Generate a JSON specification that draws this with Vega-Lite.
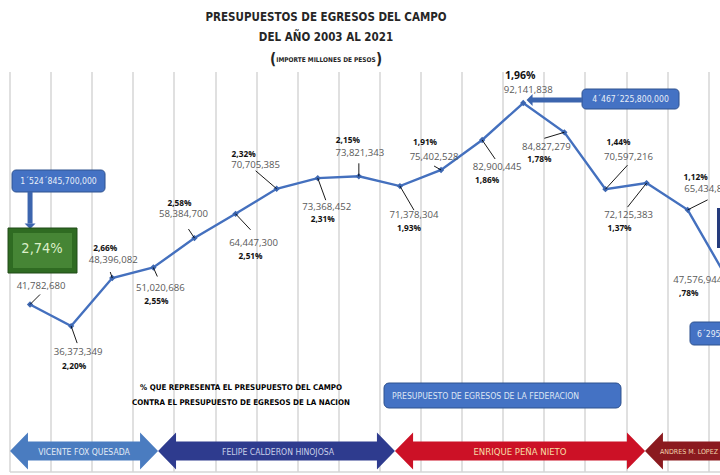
{
  "$schema": "https://vega.github.io/schema/vega-lite/v6.json",
  "width": 710.5,
  "height": 400,
  "autosize": {"type": "none"},
  "padding": {"left": 9.5, "top": 71.6, "right": 0, "bottom": 3.4},
  "background": "white",
  "datasets": {
    "presupuesto": [
      {"year": 2003, "value": 41782680, "pct": "2,74%"},
      {"year": 2004, "value": 36373349, "pct": "2,20%"},
      {"year": 2005, "value": 48396082, "pct": "2,66%"},
      {"year": 2006, "value": 51020686, "pct": "2,55%"},
      {"year": 2007, "value": 58384700, "pct": "2,58%"},
      {"year": 2008, "value": 64447300, "pct": "2,51%"},
      {"year": 2009, "value": 70705385, "pct": "2,32%"},
      {"year": 2010, "value": 73368452, "pct": "2,31%"},
      {"year": 2011, "value": 73821343, "pct": "2,15%"},
      {"year": 2012, "value": 71378304, "pct": "1,93%"},
      {"year": 2013, "value": 75402528, "pct": "1,91%"},
      {"year": 2014, "value": 82900445, "pct": "1,86%"},
      {"year": 2015, "value": 92141838, "pct": "1,96%"},
      {"year": 2016, "value": 84827279, "pct": "1,78%"},
      {"year": 2017, "value": 70597216, "pct": "1,44%"},
      {"year": 2018, "value": 72125383, "pct": "1,37%"},
      {"year": 2019, "value": 65434800, "pct": "1,12%"},
      {"year": 2020, "value": 47576944, "pct": ",78%"}
    ],
    "uno": [{"k": 1}]
  },
  "layer": [
    {
      "data": {"name": "uno"},
      "layer": [
        {"mark": {"type": "text", "style": "ttl", "color": "#262626"},
         "encoding": {"x": {"datum": 2010.201, "type": "quantitative"}, "y": {"datum": 113400000, "type": "quantitative"}, "text": {"value": "PRESUPUESTOS DE EGRESOS DEL CAMPO"}}},
        {"mark": {"type": "text", "style": "ttl", "color": "#262626"},
         "encoding": {"x": {"datum": 2010.201, "type": "quantitative"}, "y": {"datum": 108400000, "type": "quantitative"}, "text": {"value": "DEL AÑO 2003 AL 2021"}}},
        {"mark": {"type": "text", "style": "ttl", "color": "#262626", "fontSize": 6.5},
         "encoding": {"x": {"datum": 2010.201, "type": "quantitative"}, "y": {"datum": 103025000, "type": "quantitative"}, "text": {"value": "IMPORTE MILLONES DE PESOS"}}},
        {"mark": {"type": "text", "style": "paren", "color": "#262626"},
         "encoding": {"x": {"datum": 2008.911, "type": "quantitative"}, "y": {"datum": 103150000, "type": "quantitative"}, "text": {"value": "("}}},
        {"mark": {"type": "text", "style": "paren", "color": "#262626"},
         "encoding": {"x": {"datum": 2011.49, "type": "quantitative"}, "y": {"datum": 103150000, "type": "quantitative"}, "text": {"value": ")"}}},
        {"mark": {"type": "rect", "fill": "#4472c4", "stroke": "#2f528f", "strokeWidth": 1, "cornerRadius": 4},
         "encoding": {"x": {"datum": 2002.561, "type": "quantitative"}, "x2": {"datum": 2004.824}, "y": {"datum": 75400000, "type": "quantitative"}, "y2": {"datum": 69900000}}},
        {"mark": {"type": "text", "style": "box", "align": "center", "color": "#e8eef8"},
         "encoding": {"x": {"datum": 2003.692, "type": "quantitative"}, "y": {"datum": 72650000, "type": "quantitative"}, "text": {"value": "1´524´845,700,000"}}},
        {"mark": {"type": "rule", "color": "#3c65ae", "strokeWidth": 5},
         "encoding": {"x": {"datum": 2003.0, "type": "quantitative"}, "y": {"datum": 69900000, "type": "quantitative"}, "y2": {"datum": 62000000}}},
        {"mark": {"type": "point", "shape": "M 0 0 L -1 -1 L 1 -1 Z", "size": 121, "filled": true, "color": "#3c65ae", "opacity": 1},
         "encoding": {"x": {"datum": 2003.0, "type": "quantitative"}, "y": {"datum": 60650000, "type": "quantitative"}}},
        {"mark": {"type": "rect", "fill": "#2f6b22", "stroke": "#1f4a16", "strokeWidth": 1},
         "encoding": {"x": {"datum": 2002.464, "type": "quantitative"}, "x2": {"datum": 2004.142}, "y": {"datum": 60900000, "type": "quantitative"}, "y2": {"datum": 49650000}}},
        {"mark": {"type": "rect", "fill": "#468535"},
         "encoding": {"x": {"datum": 2002.585, "type": "quantitative"}, "x2": {"datum": 2004.021}, "y": {"datum": 59650000, "type": "quantitative"}, "y2": {"datum": 50900000}}},
        {"mark": {"type": "rect", "fill": "#4472c4", "stroke": "#2f528f", "strokeWidth": 1, "cornerRadius": 4},
         "encoding": {"x": {"datum": 2016.43, "type": "quantitative"}, "x2": {"datum": 2018.79}, "y": {"datum": 95650000, "type": "quantitative"}, "y2": {"datum": 90650000}}},
        {"mark": {"type": "text", "style": "box", "align": "center", "color": "#e8eef8"},
         "encoding": {"x": {"datum": 2017.61, "type": "quantitative"}, "y": {"datum": 93150000, "type": "quantitative"}, "text": {"value": "4´467´225,800,000"}}},
        {"mark": {"type": "rule", "color": "#3c65ae", "strokeWidth": 5},
         "encoding": {"x": {"datum": 2015.213, "type": "quantitative"}, "x2": {"datum": 2016.43}, "y": {"datum": 92900000, "type": "quantitative"}}},
        {"mark": {"type": "point", "shape": "M 0 0 L 1 -1 L 1 1 Z", "size": 144, "filled": true, "color": "#3c65ae", "opacity": 1},
         "encoding": {"x": {"datum": 2015.08, "type": "quantitative"}, "y": {"datum": 92900000, "type": "quantitative"}}},
        {"mark": {"type": "rect", "fill": "#4472c4", "stroke": "#2f528f", "strokeWidth": 1, "cornerRadius": 4},
         "encoding": {"x": {"datum": 2019.057, "type": "quantitative"}, "x2": {"datum": 2021.7}, "y": {"datum": 37400000, "type": "quantitative"}, "y2": {"datum": 31650000}}},
        {"mark": {"type": "text", "style": "box", "align": "left", "color": "#e8eef8"},
         "encoding": {"x": {"datum": 2019.227, "type": "quantitative"}, "y": {"datum": 34400000, "type": "quantitative"}, "text": {"value": "6´295´736,200,000"}}},
        {"mark": {"type": "rect", "fill": "#253b7c"},
         "encoding": {"x": {"datum": 2019.714, "type": "quantitative"}, "x2": {"datum": 2021.0}, "y": {"datum": 65900000, "type": "quantitative"}, "y2": {"datum": 55900000}}},
        {"mark": {"type": "rect", "fill": "#4472c4", "stroke": "#2f528f", "strokeWidth": 1, "cornerRadius": 5},
         "encoding": {"x": {"datum": 2011.612, "type": "quantitative"}, "x2": {"datum": 2017.378}, "y": {"datum": 22150000, "type": "quantitative"}, "y2": {"datum": 15900000}}},
        {"mark": {"type": "text", "style": "box", "align": "left", "color": "#dde6f4"},
         "encoding": {"x": {"datum": 2011.807, "type": "quantitative"}, "y": {"datum": 18900000, "type": "quantitative"}, "text": {"value": "PRESUPUESTO DE EGRESOS DE LA FEDERACION"}}},
        {"mark": {"type": "text", "style": "note", "color": "#000000"},
         "encoding": {"x": {"datum": 2008.133, "type": "quantitative"}, "y": {"datum": 20900000, "type": "quantitative"}, "text": {"value": "% QUE REPRESENTA EL PRESUPUESTO DEL CAMPO"}}},
        {"mark": {"type": "text", "style": "note", "color": "#000000"},
         "encoding": {"x": {"datum": 2008.133, "type": "quantitative"}, "y": {"datum": 17150000, "type": "quantitative"}, "text": {"value": "CONTRA EL PRESUPUESTO DE EGRESOS DE LA NACION"}}},
        {"mark": {"type": "point", "shape": "M -4 0 L -3.03 -1 L -3.03 -0.51 L 3.03 -0.51 L 3.03 -1 L 4 0 L 3.03 1 L 3.03 0.51 L -3.03 0.51 L -3.03 1 Z", "size": 1369, "filled": true, "color": "#4a7cc0", "opacity": 1, "strokeWidth": 0},
         "encoding": {"x": {"datum": 2004.313, "type": "quantitative"}, "y": {"datum": 5150000, "type": "quantitative"}}},
        {"mark": {"type": "point", "shape": "M -6.4 0 L -5.43 -1 L -5.43 -0.51 L 5.43 -0.51 L 5.43 -1 L 6.4 0 L 5.43 1 L 5.43 0.51 L -5.43 0.51 L -5.43 1 Z", "size": 1369, "filled": true, "color": "#2e3b8e", "opacity": 1, "strokeWidth": 0},
         "encoding": {"x": {"datum": 2008.996, "type": "quantitative"}, "y": {"datum": 5150000, "type": "quantitative"}}},
        {"mark": {"type": "point", "shape": "M -6.76 0 L -5.78 -1 L -5.78 -0.51 L 5.78 -0.51 L 5.78 -1 L 6.76 0 L 5.78 1 L 5.78 0.51 L -5.78 0.51 L -5.78 1 Z", "size": 1369, "filled": true, "color": "#cc1126", "opacity": 1, "strokeWidth": 0},
         "encoding": {"x": {"datum": 2014.921, "type": "quantitative"}, "y": {"datum": 5150000, "type": "quantitative"}}},
        {"mark": {"type": "point", "shape": "M 0 0 L 0.97 -1 L 0.97 -0.51 L 8 -0.51 L 8 0.51 L 0.97 0.51 L 0.97 1 Z", "size": 1369, "filled": true, "color": "#8b1a1f", "opacity": 1, "strokeWidth": 0},
         "encoding": {"x": {"datum": 2017.962, "type": "quantitative"}, "y": {"datum": 5150000, "type": "quantitative"}}},
        {"mark": {"type": "text", "style": "arrowtxt", "color": "#e3ebf6"},
         "encoding": {"x": {"datum": 2004.313, "type": "quantitative"}, "y": {"datum": 4900000, "type": "quantitative"}, "text": {"value": "VICENTE FOX QUESADA"}}},
        {"mark": {"type": "text", "style": "arrowtxt", "color": "#c9cfea"},
         "encoding": {"x": {"datum": 2009.033, "type": "quantitative"}, "y": {"datum": 4900000, "type": "quantitative"}, "text": {"value": "FELIPE CALDERON HINOJOSA"}}},
        {"mark": {"type": "text", "style": "arrowtxt", "color": "#f7dfa8", "fontSize": 9.5},
         "encoding": {"x": {"datum": 2014.921, "type": "quantitative"}, "y": {"datum": 4900000, "type": "quantitative"}, "text": {"value": "ENRIQUE PEÑA NIETO"}}},
        {"mark": {"type": "text", "style": "arrowtxt", "color": "#f3d3ad", "fontSize": 7, "align": "left"},
         "encoding": {"x": {"datum": 2018.327, "type": "quantitative"}, "y": {"datum": 4900000, "type": "quantitative"}, "text": {"value": "ANDRES M. LOPEZ OBRADOR"}}}
      ]
    },
    {
      "data": {"name": "presupuesto"},
      "encoding": {
        "x": {
          "field": "year", "type": "quantitative",
          "scale": {"domain": [2002.5, 2019.787], "nice": false, "zero": false},
          "axis": {
            "values": [2002.5, 2003.5, 2004.5, 2005.5, 2006.5, 2007.5, 2008.5, 2009.5, 2010.5, 2011.5, 2012.5, 2013.5, 2014.5, 2015.5, 2016.5, 2017.5, 2018.5, 2019.5],
            "grid": true, "labels": false, "ticks": false, "title": null,
            "gridColor": "#d6d6d6", "gridWidth": 1.5, "domainColor": "#d6d6d6", "domainWidth": 1.5
          }
        },
        "y": {
          "field": "value", "type": "quantitative",
          "scale": {"domain": [0, 100000000], "nice": false},
          "axis": null
        }
      },
      "layer": [
        {"mark": {"type": "line", "color": "#4470be", "strokeWidth": 2.4}},
        {"mark": {"type": "point", "shape": "diamond", "filled": true, "size": 40, "color": "#3d67b1", "opacity": 1}},
        {"transform": [{"filter": "datum.year === 2003"}], "layer": [
          {"mark": {"type": "rule", "style": "lead", "x2Offset": 10, "y2Offset": -10}, "encoding": {"x2": {"field": "year"}, "y2": {"field": "value"}}},
          {"mark": {"type": "text", "style": "val", "color": "#595959", "dx": 11, "dy": -18}, "encoding": {"text": {"field": "value", "format": ","}}},
          {"mark": {"type": "text", "style": "big", "color": "#dcefc8", "dx": 12, "dy": -55}, "encoding": {"text": {"field": "pct"}}}
        ]},
        {"transform": [{"filter": "datum.year === 2004"}], "layer": [
          {"mark": {"type": "rule", "style": "lead", "x2Offset": 6, "y2Offset": 17}, "encoding": {"x2": {"field": "year"}, "y2": {"field": "value"}}},
          {"mark": {"type": "text", "style": "val", "color": "#595959", "dx": 7, "dy": 26}, "encoding": {"text": {"field": "value", "format": ","}}},
          {"mark": {"type": "text", "style": "pct", "color": "#111111", "dx": 3, "dy": 41}, "encoding": {"text": {"field": "pct"}}}
        ]},
        {"transform": [{"filter": "datum.year === 2005"}], "layer": [
          {"mark": {"type": "rule", "style": "lead", "x2Offset": -2, "y2Offset": -6}, "encoding": {"x2": {"field": "year"}, "y2": {"field": "value"}}},
          {"mark": {"type": "text", "style": "val", "color": "#595959", "dx": 1, "dy": -18}, "encoding": {"text": {"field": "value", "format": ","}}},
          {"mark": {"type": "text", "style": "pct", "color": "#111111", "dx": -7, "dy": -29}, "encoding": {"text": {"field": "pct"}}}
        ]},
        {"transform": [{"filter": "datum.year === 2006"}], "layer": [
          {"mark": {"type": "rule", "style": "lead", "x2Offset": 4, "y2Offset": 9}, "encoding": {"x2": {"field": "year"}, "y2": {"field": "value"}}},
          {"mark": {"type": "text", "style": "val", "color": "#595959", "dx": 7, "dy": 20}, "encoding": {"text": {"field": "value", "format": ","}}},
          {"mark": {"type": "text", "style": "pct", "color": "#111111", "dx": 3, "dy": 34}, "encoding": {"text": {"field": "pct"}}}
        ]},
        {"transform": [{"filter": "datum.year === 2007"}], "layer": [
          {"mark": {"type": "rule", "style": "lead", "x2Offset": -6, "y2Offset": -9}, "encoding": {"x2": {"field": "year"}, "y2": {"field": "value"}}},
          {"mark": {"type": "text", "style": "val", "color": "#595959", "dx": -11, "dy": -24}, "encoding": {"text": {"field": "value", "format": ","}}},
          {"mark": {"type": "text", "style": "pct", "color": "#111111", "dx": -15, "dy": -34}, "encoding": {"text": {"field": "pct"}}}
        ]},
        {"transform": [{"filter": "datum.year === 2008"}], "layer": [
          {"mark": {"type": "rule", "style": "lead", "x2Offset": 15, "y2Offset": 16}, "encoding": {"x2": {"field": "year"}, "y2": {"field": "value"}}},
          {"mark": {"type": "text", "style": "val", "color": "#595959", "dx": 18, "dy": 29}, "encoding": {"text": {"field": "value", "format": ","}}},
          {"mark": {"type": "text", "style": "pct", "color": "#111111", "dx": 15, "dy": 43}, "encoding": {"text": {"field": "pct"}}}
        ]},
        {"transform": [{"filter": "datum.year === 2009"}], "layer": [
          {"mark": {"type": "rule", "style": "lead", "x2Offset": -21, "y2Offset": -18}, "encoding": {"x2": {"field": "year"}, "y2": {"field": "value"}}},
          {"mark": {"type": "text", "style": "val", "color": "#595959", "dx": -21, "dy": -24}, "encoding": {"text": {"field": "value", "format": ","}}},
          {"mark": {"type": "text", "style": "pct", "color": "#111111", "dx": -33, "dy": -34}, "encoding": {"text": {"field": "pct"}}}
        ]},
        {"transform": [{"filter": "datum.year === 2010"}], "layer": [
          {"mark": {"type": "rule", "style": "lead", "x2Offset": 8, "y2Offset": 22}, "encoding": {"x2": {"field": "year"}, "y2": {"field": "value"}}},
          {"mark": {"type": "text", "style": "val", "color": "#595959", "dx": 9, "dy": 29}, "encoding": {"text": {"field": "value", "format": ","}}},
          {"mark": {"type": "text", "style": "pct", "color": "#111111", "dx": 5, "dy": 42}, "encoding": {"text": {"field": "pct"}}}
        ]},
        {"transform": [{"filter": "datum.year === 2011"}], "layer": [
          {"mark": {"type": "rule", "style": "lead", "x2Offset": 0, "y2Offset": -13}, "encoding": {"x2": {"field": "year"}, "y2": {"field": "value"}}},
          {"mark": {"type": "text", "style": "val", "color": "#595959", "dx": 1, "dy": -23}, "encoding": {"text": {"field": "value", "format": ","}}},
          {"mark": {"type": "text", "style": "pct", "color": "#111111", "dx": -11, "dy": -35}, "encoding": {"text": {"field": "pct"}}}
        ]},
        {"transform": [{"filter": "datum.year === 2012"}], "layer": [
          {"mark": {"type": "rule", "style": "lead", "x2Offset": 14, "y2Offset": 24}, "encoding": {"x2": {"field": "year"}, "y2": {"field": "value"}}},
          {"mark": {"type": "text", "style": "val", "color": "#595959", "dx": 14, "dy": 29}, "encoding": {"text": {"field": "value", "format": ","}}},
          {"mark": {"type": "text", "style": "pct", "color": "#111111", "dx": 9, "dy": 43}, "encoding": {"text": {"field": "pct"}}}
        ]},
        {"transform": [{"filter": "datum.year === 2013"}], "layer": [
          {"mark": {"type": "rule", "style": "lead", "x2Offset": -7, "y2Offset": -4}, "encoding": {"x2": {"field": "year"}, "y2": {"field": "value"}}},
          {"mark": {"type": "text", "style": "val", "color": "#595959", "dx": -7, "dy": -13}, "encoding": {"text": {"field": "value", "format": ","}}},
          {"mark": {"type": "text", "style": "pct", "color": "#111111", "dx": -16, "dy": -27}, "encoding": {"text": {"field": "pct"}}}
        ]},
        {"transform": [{"filter": "datum.year === 2014"}], "layer": [
          {"mark": {"type": "rule", "style": "lead", "x2Offset": 13, "y2Offset": 19}, "encoding": {"x2": {"field": "year"}, "y2": {"field": "value"}}},
          {"mark": {"type": "text", "style": "val", "color": "#595959", "dx": 15, "dy": 27}, "encoding": {"text": {"field": "value", "format": ","}}},
          {"mark": {"type": "text", "style": "pct", "color": "#111111", "dx": 5, "dy": 41}, "encoding": {"text": {"field": "pct"}}}
        ]},
        {"transform": [{"filter": "datum.year === 2015"}], "layer": [
          {"mark": {"type": "text", "style": "val", "color": "#595959", "dx": 5, "dy": -13}, "encoding": {"text": {"field": "value", "format": ","}}},
          {"mark": {"type": "text", "style": "pct", "color": "#111111", "dx": -3, "dy": -27, "fontSize": 10.5}, "encoding": {"text": {"field": "pct"}}}
        ]},
        {"transform": [{"filter": "datum.year === 2016"}], "layer": [
          {"mark": {"type": "rule", "style": "lead", "x2Offset": -20, "y2Offset": 6}, "encoding": {"x2": {"field": "year"}, "y2": {"field": "value"}}},
          {"mark": {"type": "text", "style": "val", "color": "#595959", "dx": -18, "dy": 15}, "encoding": {"text": {"field": "value", "format": ","}}},
          {"mark": {"type": "text", "style": "pct", "color": "#111111", "dx": -25, "dy": 28}, "encoding": {"text": {"field": "pct"}}}
        ]},
        {"transform": [{"filter": "datum.year === 2017"}], "layer": [
          {"mark": {"type": "rule", "style": "lead", "x2Offset": 22, "y2Offset": -24}, "encoding": {"x2": {"field": "year"}, "y2": {"field": "value"}}},
          {"mark": {"type": "text", "style": "val", "color": "#595959", "dx": 23, "dy": -32}, "encoding": {"text": {"field": "value", "format": ","}}},
          {"mark": {"type": "text", "style": "pct", "color": "#111111", "dx": 13, "dy": -46}, "encoding": {"text": {"field": "pct"}}}
        ]},
        {"transform": [{"filter": "datum.year === 2018"}], "layer": [
          {"mark": {"type": "rule", "style": "lead", "x2Offset": -19, "y2Offset": 24}, "encoding": {"x2": {"field": "year"}, "y2": {"field": "value"}}},
          {"mark": {"type": "text", "style": "val", "color": "#595959", "dx": -18, "dy": 32}, "encoding": {"text": {"field": "value", "format": ","}}},
          {"mark": {"type": "text", "style": "pct", "color": "#111111", "dx": -27, "dy": 46}, "encoding": {"text": {"field": "pct"}}}
        ]},
        {"transform": [{"filter": "datum.year === 2019"}], "layer": [
          {"mark": {"type": "rule", "style": "lead", "x2Offset": 20, "y2Offset": -10}, "encoding": {"x2": {"field": "year"}, "y2": {"field": "value"}}},
          {"mark": {"type": "text", "style": "val", "color": "#595959", "dx": 21, "dy": -21}, "encoding": {"text": {"field": "value", "format": ","}}},
          {"mark": {"type": "text", "style": "pct", "color": "#111111", "dx": 8, "dy": -32}, "encoding": {"text": {"field": "pct"}}}
        ]},
        {"transform": [{"filter": "datum.year === 2020"}], "layer": [
          {"mark": {"type": "text", "style": "val", "color": "#595959", "dx": -31, "dy": -1}, "encoding": {"text": {"field": "value", "format": ","}}},
          {"mark": {"type": "text", "style": "pct", "color": "#111111", "dx": -40, "dy": 13}, "encoding": {"text": {"field": "pct"}}}
        ]}
      ]
    }
  ],
  "config": {
    "view": {"stroke": null},
    "axisY": {"disable": true},
    "axisX": {"labels": false, "ticks": false, "title": null, "grid": true, "gridColor": "#d6d6d6", "gridWidth": 1.5, "domainColor": "#d6d6d6"},
    "style": {
      "ttl": {"font": "DejaVu Sans Condensed", "fontSize": 11.5, "fontWeight": "bold", "align": "center", "baseline": "middle"},
      "val": {"font": "Open Sans", "fontSize": 9.6, "align": "center", "baseline": "middle"},
      "pct": {"font": "Open Sans", "fontSize": 8.3, "fontWeight": "bold", "align": "center", "baseline": "middle"},
      "big": {"font": "DejaVu Sans Condensed", "fontSize": 14.5, "align": "center", "baseline": "middle"},
      "lead": {"stroke": "#808080", "strokeWidth": 0.9},
      "box": {"font": "DejaVu Sans Condensed", "fontSize": 8.6, "baseline": "middle"},
      "note": {"font": "DejaVu Sans Condensed", "fontSize": 7.9, "fontWeight": "bold", "align": "center", "baseline": "middle"},
      "arrowtxt": {"font": "DejaVu Sans Condensed", "fontSize": 8.6, "align": "center", "baseline": "middle"},
      "paren": {"font": "DejaVu Sans Condensed", "fontSize": 15, "fontWeight": "bold", "align": "center", "baseline": "middle"}
    }
  }
}
